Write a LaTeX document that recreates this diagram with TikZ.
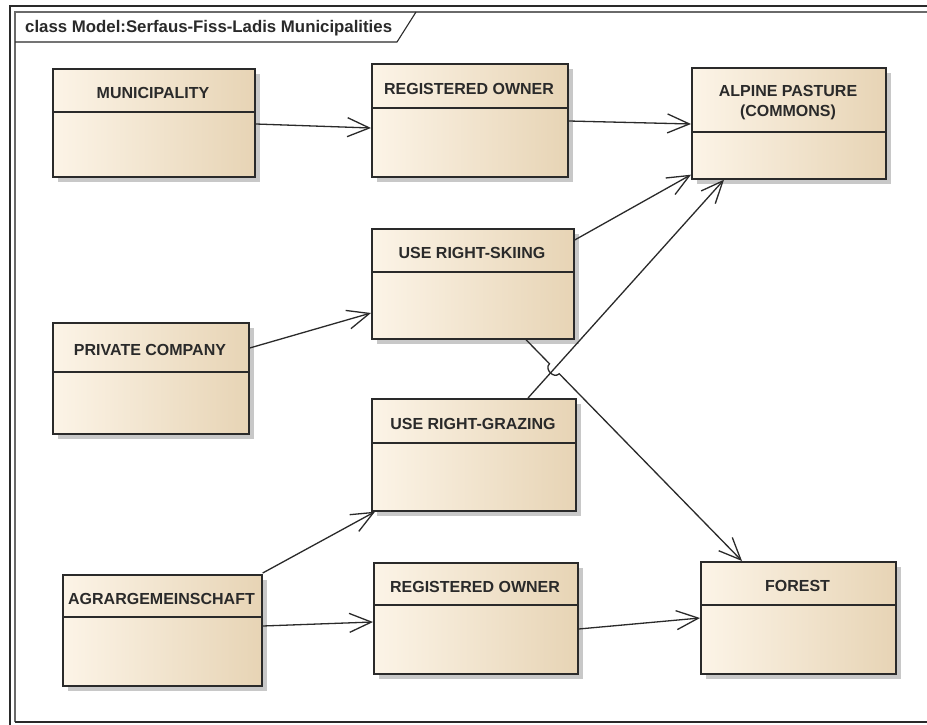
\documentclass[tikz,border=0pt]{standalone}
\usepackage{fontspec}
\setmainfont{Liberation Sans}
\usetikzlibrary{arrows.meta,calc,shadows}
\definecolor{boxL}{HTML}{FCF4E7}
\definecolor{boxM}{HTML}{F8ECD9}
\definecolor{boxR}{HTML}{E7D4B5}
\definecolor{edge}{HTML}{2A2A2A}
\definecolor{shd}{HTML}{C8C8C8}
\tikzset{
  umlbox/.style={draw=edge, line width=1.7pt, rectangle, inner sep=0pt,
    left color=boxL, middle color=boxM, right color=boxR, shading angle=90,
    anchor=north west,
    drop shadow={shadow xshift=5pt, shadow yshift=-5pt, fill=shd, opacity=1, draw=none}},
  umllabel/.style={font=\bfseries\fontsize{16}{20.5}\selectfont, text=edge, align=center, inner sep=0pt},
  sepline/.style={draw=edge, line width=1.5pt},
  conn/.style={draw=edge, line width=1.3pt, -{Straight Barb[length=22pt,width=19pt,line width=1.3pt]}},
}
\newcommand{\umlclass}[7]{%
  \node[umlbox, minimum width=#4pt-#2pt, minimum height=#5pt-#3pt] (#1) at (#2,#3) {};
  \draw[sepline] (#2,#6) -- (#4,#6);
  \node[umllabel] (#1t) at ({(#2+#4)/2},{(#3+#6)/2+3}) {#7};
}
\begin{document}
\begin{tikzpicture}[x=1pt,y=-1pt]
\useasboundingbox (0,0) rectangle (927,725);
\fill[white] (0,0) rectangle (927,725);
% frame
\draw[edge, line width=2.2pt] (10,740) -- (10,6) -- (940,6);
\draw[edge!70, line width=1.3pt] (15,722) -- (15,12) -- (940,12);
\draw[edge, line width=1.6pt] (15,722) -- (940,722);
\draw[edge, line width=1.1pt] (15,42) -- (397,42) -- (416,12);
\node[anchor=west, font=\bfseries\fontsize{16.8}{20}\selectfont, text=edge, inner sep=0pt] (title) at (25,28) {class Model:Serfaus-Fiss-Ladis Municipalities};
% classes
\umlclass{mun}{52}{68}{254}{176}{112}{MUNICIPALITY}
\umlclass{roa}{371}{63}{567}{176}{108}{REGISTERED OWNER}
\umlclass{alp}{691}{67}{885}{178}{132}{ALPINE PASTURE\\(COMMONS)}
\umlclass{ski}{371}{228}{573}{338}{272}{USE RIGHT-SKIING}
\umlclass{prv}{52}{322}{248}{433}{372}{PRIVATE COMPANY}
\umlclass{grz}{371}{398}{575}{510}{443}{USE RIGHT-GRAZING}
\umlclass{agr}{62}{574}{261}{685}{617}{AGRARGEMEINSCHAFT}
\umlclass{rob}{373}{562}{577}{673}{605}{REGISTERED OWNER}
\umlclass{for}{700}{561}{895}{673}{605}{FOREST}
% connector end points
\coordinate (s5) at ($(grz.north west)+(157,0)$);
\coordinate (e5) at ($(alp.south west)+(33,0)$);
\coordinate (s6) at ($(ski.south west)+(155,0)$);
\coordinate (e6) at ($(for.north west)+(42,0)$);
\coordinate (X) at (intersection of s5--e5 and s6--e6);
% connectors
\draw[conn] ($(mun.north east)+(0,56)$) -- ($(roa.north west)+(0,65)$);
\draw[conn] ($(roa.north east)+(0,58)$) -- ($(alp.north west)+(0,57)$);
\draw[conn] ($(ski.north east)+(0,12)$) -- ($(alp.south west)+(0,-5)$);
\draw[conn] ($(prv.north east)+(0,26)$) -- ($(ski.north west)+(0,85)$);
\draw[conn] (s5) -- (e5);
\draw[conn] (s6) -- ($(X)!7pt!(s6)$) to[bend right=90, looseness=1.4] ($(X)!7pt!(e6)$) -- (e6);
\draw[conn] ($(agr.north east)+(0,-1)$) -- ($(grz.south west)+(4,0)$);
\draw[conn] ($(agr.north east)+(0,52)$) -- ($(rob.north west)+(0,60)$);
\draw[conn] ($(rob.north east)+(0,67)$) -- ($(for.north west)+(0,57)$);
\end{tikzpicture}
\end{document}
